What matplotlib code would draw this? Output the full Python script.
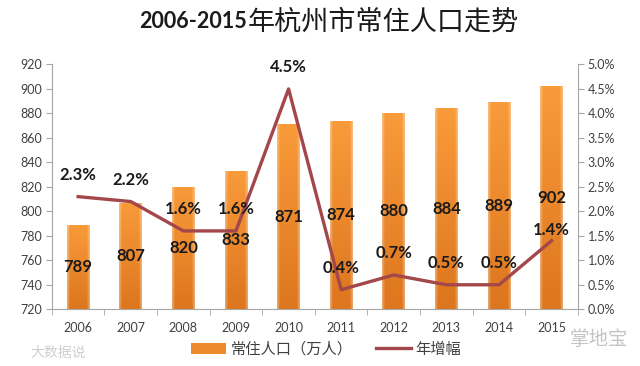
import matplotlib
matplotlib.use("Agg")
import matplotlib.pyplot as plt
import numpy as np
from matplotlib.patches import Patch
from matplotlib.lines import Line2D

plt.rcParams['font.family'] = ['Lato', 'Noto Sans CJK SC', 'DejaVu Sans']
plt.rcParams['axes.unicode_minus'] = False

years = ['2006', '2007', '2008', '2009', '2010', '2011', '2012', '2013', '2014', '2015']
population = [789, 807, 820, 833, 871, 874, 880, 884, 889, 902]   # 常住人口（万人）
growth = [2.3, 2.2, 1.6, 1.6, 4.5, 0.4, 0.7, 0.5, 0.5, 1.4]        # 年增幅 %

bar_top = '#F99B3A'
bar_bottom = '#DD761E'
line_color = '#A3474B'
axis_color = '#A6A6A6'
text_color = '#404040'

fig = plt.figure(figsize=(6.4, 3.66), dpi=100)
ax = fig.add_axes([0.081, 0.155, 0.822, 0.669])
x = np.arange(len(years))

bars = ax.bar(x, population, width=0.43, color=bar_top, zorder=2)

# 渐变填充：上浅下深，两侧略亮
ny, nx = 64, 32
vert = np.linspace(0, 1, ny)[:, None, None]
horiz = np.abs(np.linspace(-1, 1, nx))[None, :, None]
c_top = np.array(matplotlib.colors.to_rgb(bar_top))
c_bot = np.array(matplotlib.colors.to_rgb(bar_bottom))
grad = c_top * (1 - vert) + c_bot * vert
edge = np.clip((horiz - 0.75) / 0.25, 0, 1) * 0.35
grad = grad * (1 - edge) + edge
for b in bars:
    x0, w, h = b.get_x(), b.get_width(), b.get_height()
    im = ax.imshow(grad, extent=(x0, x0 + w, 720, h), aspect='auto',
                   origin='upper', zorder=2.1, interpolation='bilinear')
    im.set_clip_path(b)
    b.set_alpha(0)
ax.set_xlim(-0.5, len(years) - 0.5)
ax.set_ylim(720, 920)
ax.set_yticks(np.arange(720, 921, 20))

for xi, v in zip(x, population):
    ax.text(xi, (v + 720) / 2, str(v), ha='center', va='center',
            fontsize=12, fontweight='bold', color='#1a1a1a', zorder=5)

ax.set_xticks(x)
ax.set_xticklabels(years)
ax.set_xticks(np.arange(-0.5, len(years), 1), minor=True)
ax.tick_params(axis='x', which='major', length=0, pad=9, labelsize=9, colors=text_color)
ax.tick_params(axis='x', which='minor', length=4, color=axis_color, direction='out')
ax.tick_params(axis='y', length=4, color=axis_color, labelsize=9, labelcolor=text_color, pad=3)
for s in ['top', 'right']:
    ax.spines[s].set_visible(False)
for s in ['left', 'bottom']:
    ax.spines[s].set_color(axis_color)

ax2 = ax.twinx()
ax2.set_ylim(0, 5)
pct_ticks = np.arange(0, 5.01, 0.5)
ax2.set_yticks(pct_ticks)
ax2.set_yticklabels([f'{v:.1f}%' for v in pct_ticks])
ax2.tick_params(axis='y', length=4, color=axis_color, labelsize=9, labelcolor=text_color, pad=3)
for s in ['top', 'left', 'bottom']:
    ax2.spines[s].set_visible(False)
ax2.spines['right'].set_color(axis_color)

ax2.plot(x, growth, color=line_color, linewidth=2.4, zorder=4)
for i, (xi, g) in enumerate(zip(x, growth)):
    off = 11 if i == len(growth) - 1 else 22
    ax2.annotate(f'{g}%', (xi, g), xytext=(0, off), textcoords='offset pixels',
                 ha='center', va='center', fontsize=12, fontweight='bold',
                 color='#1a1a1a', zorder=6)

# 标题：数字加粗，中文常规
t1 = fig.text(0.218, 0.94, '2006-2015', fontsize=15.5, fontweight='bold', color='#1a1a1a',
              ha='left', va='center')
ax.annotate('年杭州市常住人口走势', xy=(1, 0.5), xycoords=t1, xytext=(0.5, 0),
            textcoords='offset points', ha='left', va='center', fontsize=19.5,
            color='#1a1a1a', family=['Noto Sans CJK SC'], annotation_clip=False)

handles = [Patch(facecolor='#EE8A2E', edgecolor='none', label='常住人口（万人）'),
           Line2D([0], [0], color=line_color, linewidth=2.4, label='年增幅')]
fig.legend(handles=handles, loc='center', bbox_to_anchor=(0.51, 0.045), ncol=2, frameon=False,
           fontsize=11, handlelength=2.3, columnspacing=1.5, handletextpad=0.3,
           labelcolor=text_color)

# 水印
fig.text(0.047, 0.038, '大数据说', fontsize=10, color='#CFCFCF', ha='left', va='center')
fig.text(0.89, 0.075, '掌地宝', fontsize=14, color='#C4C4C4', ha='left', va='center')

fig.savefig('out.png', dpi=100)
